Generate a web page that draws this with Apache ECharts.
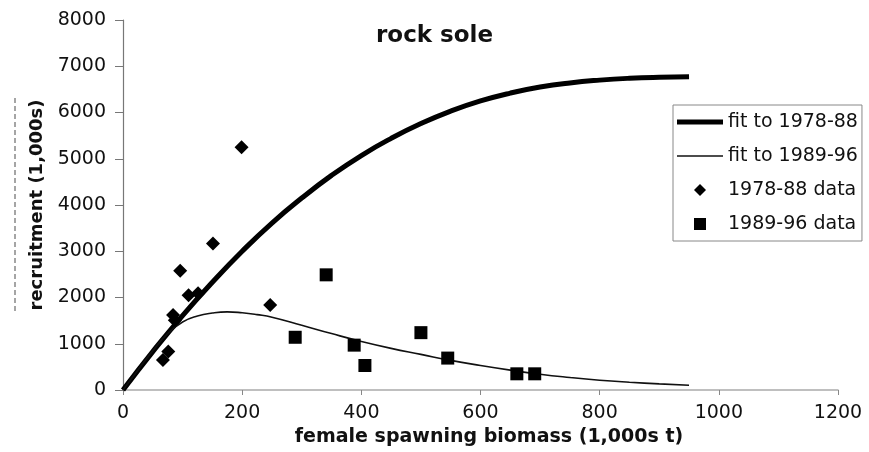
<!DOCTYPE html>
<html>
<head>
<meta charset="utf-8">
<title>rock sole</title>
<script src="https://cdn.jsdelivr.net/npm/echarts/dist/echarts.min.js"></script>
<style>
	html, body { margin: 0; padding: 0; background: #fff; }
	#chart-rock { width: 869px; height: 452px; }
</style>
</head>
<body>
<div id="chart-rock"></div>
<script>
	// 拟合曲线
	var fit7888X = [0, 50, 100, 150, 200, 250, 300, 350, 400, 450, 500, 550, 600, 650, 700, 750, 800, 850, 900, 950];
	var fit7888 = [0, 830, 1610, 2330, 3000, 3610, 4150, 4640, 5070, 5440, 5760, 6030, 6250, 6420, 6550, 6640, 6700, 6740, 6762, 6772];
	var fit8996X = [0, 25, 50, 75, 100, 125, 150, 175, 200, 225, 250, 300, 350, 400, 450, 500, 550, 600, 650, 700, 750, 800, 850, 900, 950];
	var fit8996 = [0, 430, 850, 1220, 1470, 1600, 1665, 1690, 1670, 1630, 1575, 1400, 1220, 1050, 900, 770, 640, 530, 430, 340, 270, 212, 168, 132, 104];
	// 观测点
	var data7888X = [67, 76, 84, 87, 96, 110, 126, 151, 199, 247];
	var data7888Y = [650, 830, 1620, 1510, 2580, 2050, 2090, 3170, 5250, 1840];
	var data8996X = [289, 341, 388, 406, 500, 545, 661, 691];
	var data8996Y = [1140, 2490, 970, 530, 1240, 690, 350, 350];
	var xTicks = [0, 200, 400, 600, 800, 1000, 1200];
	var yTicks = [0, 1000, 2000, 3000, 4000, 5000, 6000, 7000, 8000];

	function pairs(xs, ys) {
		var out = [];
		for (var i = 0; i < xs.length; i++) {
			out.push([xs[i], ys[i]]);
		}
		return out;
	}

	var font = 'DejaVu Sans';
	var myChart = echarts.init(document.getElementById('chart-rock'));
	var option = {
		animation: false,
		backgroundColor: '#fff',
		title: {
			text: 'rock sole',
			left: 376,
			top: 25,
			padding: 0,
			textStyle: { fontFamily: font, fontSize: 23, fontWeight: 'bold', color: '#111' }
		},
		grid: { left: 123, right: 31, top: 20, bottom: 62 },
		legend: {
			orient: 'vertical',
			left: 673,
			top: 105,
			padding: [7, 4, 7, 4],
			itemWidth: 46,
			itemHeight: 12,
			itemGap: 14,
			borderColor: '#888',
			borderWidth: 1,
			textStyle: { fontFamily: font, fontSize: 19, color: '#111', lineHeight: 20 },
			data: [
				{ name: 'fit to 1978-88', icon: 'path://M0,0H46V5H0Z' },
				{ name: 'fit to 1989-96', icon: 'path://M0,0H46V1.5H0Z' },
				{ name: '1978-88 data', icon: 'path://M6,0L12,6L6,12L0,6Z' },
				{ name: '1989-96 data', icon: 'path://M0,0H11V11H0Z' }
			]
		},
		xAxis: {
			type: 'value',
			min: xTicks[0],
			max: xTicks[xTicks.length - 1],
			interval: 200,
			name: 'female spawning biomass (1,000s t)',
			nameLocation: 'middle',
			nameGap: 34,
			nameTextStyle: { fontFamily: font, fontSize: 19, fontWeight: 'bold', color: '#111', padding: [0, 0, 0, 17] },
			axisLine: { lineStyle: { color: '#aaa', width: 1.5 } },
			axisTick: { show: true, length: 5, lineStyle: { color: '#888' } },
			axisLabel: {
				margin: 14, fontFamily: font, fontSize: 19, color: '#111',
				formatter: function (v) { return String(v); }
			},
			splitLine: { show: false }
		},
		yAxis: {
			type: 'value',
			min: yTicks[0],
			max: yTicks[yTicks.length - 1],
			interval: 1000,
			name: 'recruitment (1,000s)',
			nameLocation: 'middle',
			nameRotate: 90,
			nameGap: 77,
			nameTextStyle: { fontFamily: font, fontSize: 18, fontWeight: 'bold', color: '#111' },
			axisLine: { show: true, lineStyle: { color: '#777', width: 1.2 } },
			axisTick: { show: true, length: 8, lineStyle: { color: '#777' } },
			axisLabel: {
				margin: 17, fontFamily: font, fontSize: 19, color: '#111',
				formatter: function (v) { return String(v); }
			},
			splitLine: { show: false }
		},
		graphic: [{
			type: 'line',
			shape: { x1: 15, y1: 98, x2: 15, y2: 313 },
			style: { stroke: '#888', lineWidth: 1.5, lineDash: [5, 3] }
		}],
		series: [
			{
				name: 'fit to 1978-88',
				type: 'line',
				smooth: true,
				symbol: 'none',
				lineStyle: { color: '#000', width: 5 },
				itemStyle: { color: '#000' },
				data: pairs(fit7888X, fit7888),
				z: 3
			},
			{
				name: 'fit to 1989-96',
				type: 'line',
				smooth: true,
				symbol: 'none',
				lineStyle: { color: '#111', width: 1.6 },
				itemStyle: { color: '#111' },
				data: pairs(fit8996X, fit8996),
				z: 3
			},
			{
				name: '1978-88 data',
				type: 'scatter',
				symbol: 'diamond',
				symbolSize: 14,
				itemStyle: { color: '#000', opacity: 1 },
				data: pairs(data7888X, data7888Y),
				z: 4
			},
			{
				name: '1989-96 data',
				type: 'scatter',
				symbol: 'rect',
				symbolSize: 13,
				itemStyle: { color: '#000', opacity: 1 },
				data: pairs(data8996X, data8996Y),
				z: 4
			}
		]
	};
	myChart.setOption(option);
</script>
</body>
</html>
